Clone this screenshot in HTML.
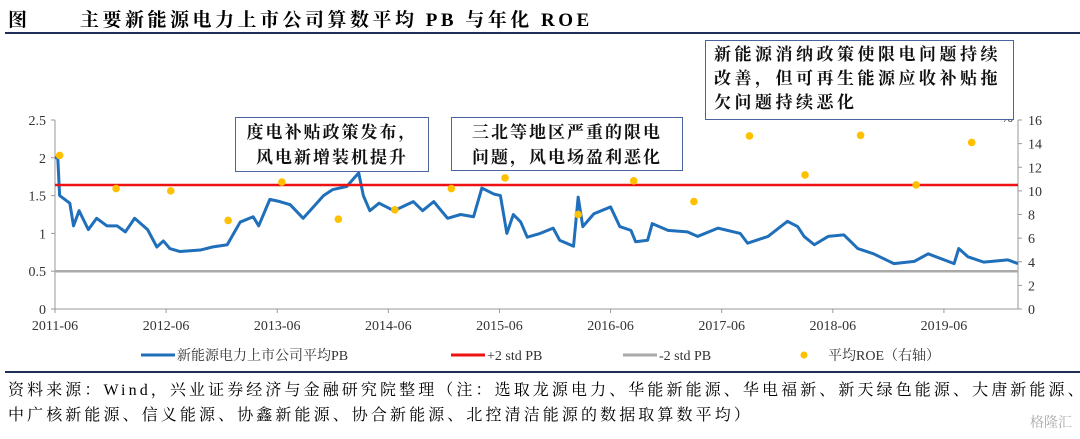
<!DOCTYPE html>
<html><head><meta charset="utf-8">
<style>
body{margin:0;width:1080px;height:439px;background:#fff;overflow:hidden;position:relative;font-family:"Liberation Serif","Noto Serif CJK SC",serif;}
.t{position:absolute;white-space:nowrap;}
.box{position:absolute;border:1.5px solid #4a64a0;background:#fff;font-weight:bold;font-size:17px;line-height:25px;color:#111;padding:2px 8px;box-sizing:border-box;text-align:center;letter-spacing:2px;}
</style></head><body>
<div class="t" style="left:8px;top:5px;font-size:19px;font-weight:bold;">图</div>
<div class="t" style="left:80px;top:5px;font-size:19px;font-weight:bold;letter-spacing:3.5px;">主要新能源电力上市公司算数平均 PB 与年化 ROE</div>
<div style="position:absolute;left:5px;top:32px;width:1075px;height:2px;background:#1f2f5a;"></div>

<svg id="chart" width="1080" height="439" style="position:absolute;left:0;top:0;" font-family="Liberation Serif, serif" font-size="14" fill="#333"></svg>

<div class="box" style="left:235px;top:117px;width:194px;height:55px;">度电补贴政策发布，<br>风电新增装机提升</div>
<div class="box" style="left:451px;top:117px;width:232px;height:54px;">三北等地区严重的限电<br>问题，风电场盈利恶化</div>
<div class="box" style="left:705px;top:40px;width:309px;height:80px;text-align:left;line-height:24px;letter-spacing:3.5px;">新能源消纳政策使限电问题持续<br>改善，但可再生能源应收补贴拖<br>欠问题持续恶化</div>

<div style="position:absolute;left:5px;top:371px;width:1075px;height:2px;background:#1f2f5a;"></div>
<div class="t" style="left:8px;top:377px;font-size:16px;letter-spacing:3.1px;">资料来源：Wind，兴业证券经济与金融研究院整理（注：选取龙源电力、华能新能源、华电福新、新天绿色能源、大唐新能源、</div>
<div class="t" style="left:8px;top:402px;font-size:16px;letter-spacing:3.1px;">中广核新能源、信义能源、协鑫新能源、协合新能源、北控清洁能源的数据取算数平均）</div>
<div class="t" style="left:1030px;top:412px;font-size:14px;color:#aaa;">格隆汇</div>

<script>
const xTickLabels=["2011-06","2012-06","2013-06","2014-06","2015-06","2016-06","2017-06","2018-06","2019-06"];
const xTickMonths=[0,12,24,36,48,60,72,84,96];
const leftTicks=[0,0.5,1,1.5,2,2.5];
const leftTickLabels=["0","0.5","1","1.5","2","2.5"];
const rightTicks=[0,2,4,6,8,10,12,14,16];
const pbMonths=[0,0.3,0.5,1.6,2,2.6,3.6,4.5,5.6,6.7,7.6,8.6,10,11,11.7,12.4,13.5,15.7,17,18.6,19.3,20,21.4,22,23.2,24.3,25.4,26.8,27.9,29,30,31.5,32.8,33.3,34,35,36.6,38.7,39.7,40.9,42.4,43.8,45.2,46.1,47.4,48.1,48.8,49.5,50.3,51,52.4,53.8,54.5,56,56.5,57,58.2,60,61,62.2,62.7,64,64.5,66.2,68.3,69.4,71.6,74,74.8,77,79.1,80.2,80.9,82,83.5,85.2,86.7,88.4,90.6,92.8,94.3,97.1,97.6,98.6,100.3,102.9,104];
const pbValues=[2.0,2.0,1.5,1.4,1.1,1.3,1.05,1.2,1.1,1.1,1.02,1.2,1.05,0.82,0.9,0.8,0.76,0.78,0.82,0.85,1.0,1.15,1.22,1.1,1.45,1.42,1.38,1.2,1.35,1.5,1.58,1.62,1.8,1.5,1.3,1.4,1.3,1.42,1.3,1.42,1.2,1.25,1.22,1.6,1.52,1.5,1.0,1.25,1.15,0.95,1.0,1.07,0.91,0.83,1.48,1.09,1.26,1.35,1.09,1.04,0.89,0.91,1.13,1.04,1.02,0.96,1.07,1.0,0.87,0.96,1.16,1.09,0.96,0.85,0.96,0.98,0.8,0.73,0.6,0.63,0.73,0.6,0.8,0.69,0.62,0.65,0.6];
const plus2std=1.64;
const minus2std=0.5;
const roeMonths=[0.5,6.6,12.5,18.7,24.5,30.6,36.7,42.8,48.6,56.5,62.5,69,75,81,87,93,99];
const roeValues=[13.0,10.2,10.0,7.5,10.75,7.6,8.4,10.2,11.1,8.0,10.85,9.1,14.65,11.35,14.7,10.5,14.1];

const X0=55,X1=1018,Y0=309,Y1=120,MMAX=104;
const x=m=>X0+(X1-X0)*m/MMAX;
const yL=v=>Y0-(Y0-Y1)*v/2.5;
const yR=v=>Y0-(Y0-Y1)*v/16;
const svg=document.getElementById('chart');
const NS='http://www.w3.org/2000/svg';
function mk(tag,attrs){const e=document.createElementNS(NS,tag);for(const k in attrs)e.setAttribute(k,attrs[k]);svg.appendChild(e);return e;}

let e=mk('line',{x1:X0,y1:Y1,x2:X0,y2:Y0,stroke:'#999','stroke-width':1});


e=mk('line',{x1:X1,y1:Y1,x2:X1,y2:Y0,stroke:'#999','stroke-width':1});


e=mk('line',{x1:X0,y1:Y0,x2:X1,y2:Y0,stroke:'#999','stroke-width':1});


leftTicks.forEach((v,i)=>{
  mk('line',{x1:X0-4,y1:yL(v),x2:X0,y2:yL(v),stroke:'#999'});
  const t=mk('text',{x:X0-9,y:yL(v)+5,'text-anchor':'end'});t.textContent=leftTickLabels[i];
  
  
});
rightTicks.forEach(v=>{
  mk('line',{x1:X1,y1:yR(v),x2:X1+4,y2:yR(v),stroke:'#999'});
  const t=mk('text',{x:X1+10,y:yR(v)+5});t.textContent=String(v);
  
  
});
e=mk('text',{x:1013,y:Y1+2,'text-anchor':'end'});e.textContent='%';


xTickMonths.forEach((m,i)=>{
  mk('line',{x1:x(m),y1:Y0,x2:x(m),y2:Y0+4,stroke:'#999'});
  const t=mk('text',{x:x(m),y:Y0+21,'text-anchor':'middle'});t.textContent=xTickLabels[i];
  
  
});
e=mk('line',{x1:X0,y1:yL(minus2std),x2:X1,y2:yL(minus2std),stroke:'#aaa','stroke-width':2.5});


e=mk('polyline',{points:pbMonths.map((m,i)=>x(m)+','+yL(pbValues[i])).join(' '),fill:'none',stroke:'#1f6fba','stroke-width':3,'stroke-linejoin':'round'});


e=mk('line',{x1:X0,y1:yL(plus2std),x2:X1,y2:yL(plus2std),stroke:'#ee1111','stroke-width':2.5});


roeMonths.forEach((m,i)=>{
  const c=mk('circle',{cx:x(m),cy:yR(roeValues[i]),r:3.8,fill:'#ffc000'});
  
  
});
function leg(x1,color,label,dot,name){
  let s;
  if(dot){s=mk('circle',{cx:x1+18,cy:355,r:3.5,fill:color});}
  else{s=mk('line',{x1:x1,y1:355,x2:x1+34,y2:355,stroke:color,'stroke-width':3});}
  
  
  const t=mk('text',{x:dot?x1+42:x1+36,y:360,'font-family':'Liberation Serif, Noto Serif CJK SC, serif','font-size':14});t.textContent=label;
  
  
}
leg(141,'#1f6fba','新能源电力上市公司平均PB',false,'legend-pb');
leg(451,'#ee1111','+2 std PB',false,'legend-plus2std');
leg(623,'#aaa','-2 std PB',false,'legend-minus2std');
leg(786,'#ffc000','平均ROE（右轴）',true,'legend-roe');
</script>
</body></html>
